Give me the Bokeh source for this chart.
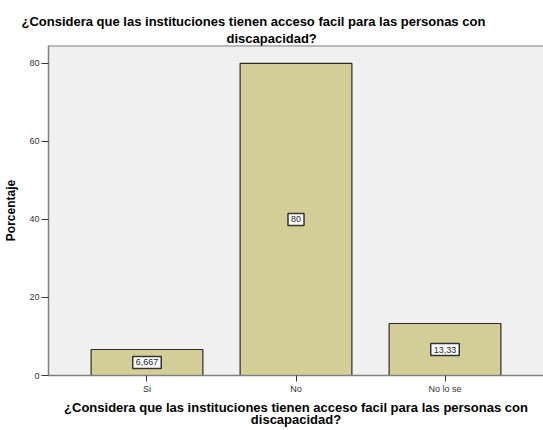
from bokeh.plotting import figure
from bokeh.models import ColumnDataSource, FactorRange, Range1d, Label, Title, FixedTicker, Span
from bokeh.embed import file_html
from bokeh.resources import INLINE

categories = ["Si", "No", "No lo se"]
percentages = [6.667, 80.0, 13.33]
value_labels = ["6,667", "80", "13,33"]
y_ticks = [0, 20, 40, 60, 80]

title_line1 = "¿Considera que las instituciones tienen acceso facil para las personas con"
title_line2 = "discapacidad?"
y_title = "Porcentaje"

FONT = "Liberation Sans"
Y_MAX = 84.6

src = ColumnDataSource(dict(cat=categories, pct=percentages))

p = figure(
    width=543, height=430,
    x_range=FactorRange(factors=categories, range_padding=0.1073),
    y_range=Range1d(0, Y_MAX),
    output_backend="svg", toolbar_location=None,
    min_border_left=48, min_border_right=0, min_border_top=45, min_border_bottom=52,
    background_fill_color="#F0F0F0", border_fill_color="white",
    outline_line_color=None,
)
p.title = None

p.vbar(x="cat", top="pct", width=0.75, source=src,
       fill_color="#D3CE97", line_color="#2b2b2b", line_width=1.2)

# value boxes: factor i sits at synthetic coordinate i + 0.5 on the FactorRange
for i, (v, t) in enumerate(zip(percentages, value_labels)):
    p.add_layout(Label(x=i + 0.5, y=v / 2, text=t,
                       text_align="center", text_baseline="middle",
                       text_font=FONT, text_font_size="9px", text_color="#222222",
                       background_fill_color="white",
                       border_line_color="#333333", border_line_width=1.5,
                       padding=3))

# top frame border
p.add_layout(Span(location=Y_MAX, dimension="width", line_color="#808080", line_width=2))

p.xgrid.visible = False
p.ygrid.visible = False

p.yaxis.ticker = FixedTicker(ticks=y_ticks)
p.yaxis.minor_tick_line_color = None
p.yaxis.major_tick_out = 7
p.yaxis.major_tick_in = 0
p.yaxis.major_label_standoff = 2
p.yaxis.major_label_text_font = FONT
p.yaxis.major_label_text_font_size = "9px"
p.yaxis.major_label_text_color = "#333333"
p.yaxis.axis_line_color = "#808080"
p.yaxis.axis_line_width = 1.5
p.yaxis.major_tick_line_color = "#333333"
p.yaxis.axis_label = y_title
p.yaxis.axis_label_text_font = FONT
p.yaxis.axis_label_text_font_size = "12px"
p.yaxis.axis_label_text_font_style = "bold"
p.yaxis.axis_label_text_color = "black"
p.yaxis.axis_label_standoff = 8

p.xaxis.major_tick_out = 6
p.xaxis.major_tick_in = 0
p.xaxis.major_label_standoff = 2
p.xaxis.major_label_text_font = FONT
p.xaxis.major_label_text_font_size = "9px"
p.xaxis.major_label_text_color = "#333333"
p.xaxis.axis_line_color = "#808080"
p.xaxis.axis_line_width = 1.5
p.xaxis.major_tick_line_color = "#333333"
p.xaxis.axis_label = title_line1 + "\n" + title_line2
p.xaxis.axis_label_text_font = FONT
p.xaxis.axis_label_text_font_size = "13px"
p.xaxis.axis_label_text_font_style = "bold"
p.xaxis.axis_label_text_color = "black"
p.xaxis.axis_label_text_line_height = 0.85
p.xaxis.axis_label_standoff = 3

# top title (two lines, each its own Title; the line nearest the frame is added first)
p.add_layout(Title(text=title_line2, align="left", offset=178, standoff=0,
                   text_font=FONT, text_font_size="13px", text_font_style="bold",
                   text_color="black"), "above")
p.add_layout(Title(text=title_line1, align="left", offset=-27, standoff=0,
                   text_font=FONT, text_font_size="13px", text_font_style="bold",
                   text_color="black"), "above")

open("out.html", "w").write(file_html(p, INLINE))
